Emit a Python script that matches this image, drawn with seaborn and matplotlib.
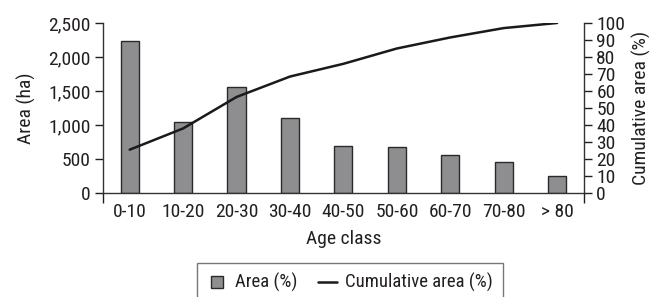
import matplotlib
matplotlib.use("Agg")
import numpy as np
import pandas as pd
import matplotlib.pyplot as plt
from matplotlib.lines import Line2D
import seaborn as sns

# values
age_classes = ["0-10", "10-20", "20-30", "30-40", "40-50", "50-60", "60-70", "70-80", "> 80"]
area_ha = [2235, 1045, 1555, 1100, 695, 672, 565, 462, 255]
cumulative_pct = [25.5, 38, 56.5, 68.5, 76, 85, 91.5, 97, 100]

df = pd.DataFrame({"age": age_classes, "area": area_ha, "cum": cumulative_pct})

sns.set_style("ticks")
plt.rcParams["font.family"] = ["Roboto Condensed", "DejaVu Sans"]
ink = "#231f20"
plt.rcParams["text.color"] = ink
plt.rcParams["axes.labelcolor"] = ink
plt.rcParams["xtick.color"] = ink
plt.rcParams["ytick.color"] = ink

bar_fill = "#8e8e90"
bar_edge = "#2a2a2a"

fig = plt.figure(figsize=(6.56, 2.97), dpi=100)
ax = fig.add_axes([0.157, 0.350, 0.733, 0.5726])

sns.barplot(data=df, x="age", y="area", color=bar_fill, saturation=1,
            width=0.34, edgecolor=bar_edge, linewidth=1.0, ax=ax)
ax.set_xlim(-0.5, len(age_classes) - 0.5)
ax.set_ylim(0, 2500)
ax.set_yticks(np.arange(0, 2501, 500))
ax.yaxis.set_major_formatter(matplotlib.ticker.StrMethodFormatter("{x:,.0f}"))
ax.set_xlabel("Age class", fontsize=14, labelpad=7)
ax.set_ylabel("Area (ha)", fontsize=14, labelpad=9)
ax.tick_params(axis="y", labelsize=14, length=6, width=1, pad=3)
ax.tick_params(axis="x", labelsize=14, length=0, pad=7)
ax.set_xticks([-0.5, len(age_classes) - 0.5], minor=True)
ax.tick_params(axis="x", which="minor", length=7, width=1)

ax2 = ax.twinx()
sns.lineplot(data=df, x="age", y="cum", color="#1a1a1a", linewidth=1.8,
             ax=ax2, legend=False)
ax2.set_ylim(0, 100)
ax2.set_yticks(np.arange(0, 101, 10))
ax2.set_ylabel("Cumulative area (%)", fontsize=14, labelpad=5)
ax2.tick_params(axis="y", labelsize=14, length=6, width=1, pad=3)

for a in (ax, ax2):
    a.spines["top"].set_visible(False)
    for side in ("left", "right", "bottom"):
        a.spines[side].set_color("#333333")
        a.spines[side].set_linewidth(1.0)
ax.spines["right"].set_visible(False)
ax2.spines["left"].set_visible(False)
ax2.spines["bottom"].set_visible(False)

# legend handles: small square for the bars, short line for the cumulative curve
handles = [
    Line2D([], [], marker="s", markersize=9, markerfacecolor=bar_fill,
           markeredgecolor=bar_edge, markeredgewidth=1.0, linestyle="none"),
    Line2D([], [], color="#1a1a1a", linewidth=1.8),
]
labels = ["Area (%)", "Cumulative area (%)"]
leg = fig.legend(handles, labels, ncol=2, loc="upper center",
                 bbox_to_anchor=(0.534, 0.1145), fontsize=13.5, frameon=True,
                 fancybox=False, edgecolor="#555555", handlelength=1.0,
                 columnspacing=1.1, handletextpad=0.45,
                 borderpad=0.55, borderaxespad=0)
leg.get_frame().set_linewidth(1.0)

fig.savefig("out.png", dpi=100)
